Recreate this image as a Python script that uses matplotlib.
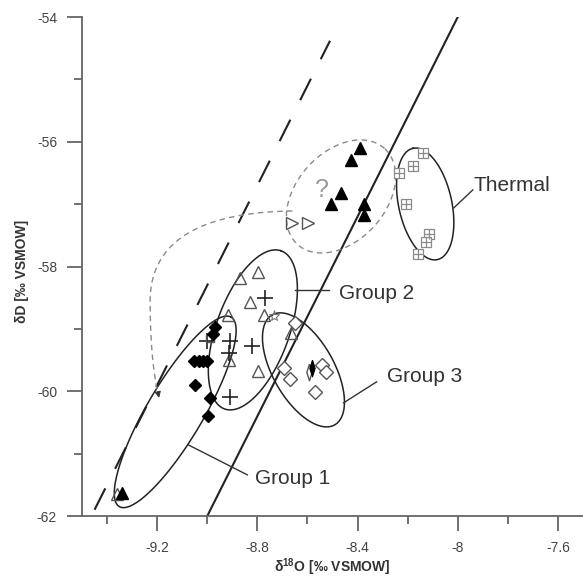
import numpy as np
import matplotlib
matplotlib.use('Agg')
import matplotlib.pyplot as plt
from matplotlib.ticker import MultipleLocator, FuncFormatter

plt.rcParams['font.family'] = ['Liberation Sans', 'DejaVu Sans']
plt.rcParams['mathtext.fontset'] = 'custom'
plt.rcParams['mathtext.rm'] = 'Liberation Sans'
plt.rcParams['mathtext.bf'] = 'Liberation Sans:bold'
plt.rcParams['axes.unicode_minus'] = False

# d18O / dD values [permil VSMOW] by sample symbol
tri_filled_x = [-8.391, -8.425, -8.468, -8.508, -8.375, -8.375, -9.341]
tri_filled_y = [-56.10, -56.29, -56.82, -57.00, -57.00, -57.18, -61.63]

tri_open_x = [-8.868, -8.799, -8.828, -8.919, -8.772, -8.915, -8.799, -8.665, -9.361]
tri_open_y = [-58.18, -58.08, -58.57, -58.78, -58.78, -59.50, -59.67, -59.07, -61.65]

tri_right_x = [-8.661, -8.599]
tri_right_y = [-57.30, -57.30]

thermal_x = [-8.137, -8.177, -8.235, -8.208, -8.115, -8.125, -8.157]
thermal_y = [-56.18, -56.39, -56.50, -57.00, -57.48, -57.60, -57.80]

plus_x = [-8.768, -9.001, -8.911, -8.915, -8.821, -8.911]
plus_y = [-58.51, -59.20, -59.20, -59.38, -59.28, -60.09]

square_x = [-8.988]
square_y = [-59.14]

star_x = [-8.735]
star_y = [-58.79]

dia_filled_x = [-8.970, -8.978, -9.052, -9.032, -9.016, -9.000, -9.048, -8.988, -8.999]
dia_filled_y = [-58.97, -59.08, -59.51, -59.51, -59.51, -59.51, -59.90, -60.10, -60.40]

dia_open_x = [-8.648, -8.695, -8.668, -8.541, -8.528, -8.568]
dia_open_y = [-58.90, -59.62, -59.81, -59.58, -59.69, -60.01]

thin_dia_x = [-8.581, -8.592]
thin_dia_y = [-59.62, -59.69]

# meteoric water lines: dD = slope * d18O + intercept
gmwl = (8.0, 10.0)
lmwl = (8.0, 13.7)

group_names = ['Group 1', 'Group 2', 'Group 3', 'Thermal']

# y data units per x data unit at this figure size, to keep ellipses round on screen
K = 4.006

# narrow diamond symbol
THIN_DIAMOND = [(0, 1), (0.32, 0), (0, -1), (-0.32, 0), (0, 1)]


def ellipse(cx, cy, a, b, ang, n=300):
    t = np.linspace(0, 2 * np.pi, n)
    th = np.radians(ang)
    u = a * np.cos(t) * np.cos(th) - b * np.sin(t) * np.sin(th)
    w = a * np.cos(t) * np.sin(th) + b * np.sin(t) * np.cos(th)
    return cx + u, cy + K * w


def bezier(p0, p1, p2, p3, n=60):
    t = np.linspace(0, 1, n)[:, None]
    p0, p1, p2, p3 = map(np.array, (p0, p1, p2, p3))
    pts = (1 - t) ** 3 * p0 + 3 * (1 - t) ** 2 * t * p1 + 3 * (1 - t) * t ** 2 * p2 + t ** 3 * p3
    return pts[:, 0], pts[:, 1]


fig = plt.figure(figsize=(5.83, 5.77), dpi=100)
ax = fig.add_axes([0.1407, 0.1057, 0.8593, 0.8648])

ink = '#222222'
grey = '#555555'

# water lines
xs = np.array([(-62 - gmwl[1]) / gmwl[0], (-54 - gmwl[1]) / gmwl[0]])
ax.plot(xs, gmwl[0] * xs + gmwl[1], color=ink, lw=1.5)
xs = np.array([(-61.9 - lmwl[1]) / lmwl[0], (-54.38 - lmwl[1]) / lmwl[0]])
ax.plot(xs, lmwl[0] * xs + lmwl[1], color=ink, lw=1.5, dashes=(11.5, 10.5))

# group ellipses
for cx, cy, a, b, ang in [(-9.128, -60.33, 0.44, 0.112, 59.5),
                          (-8.818, -59.016, 0.336, 0.146, 70.4),
                          (-8.616, -59.657, 0.253, 0.122, 119.5),
                          (-8.13, -56.997, 0.228, 0.106, 102.3)]:
    ex, ey = ellipse(cx, cy, a, b, ang)
    ax.plot(ex, ey, color=ink, lw=1.1)

ex, ey = ellipse(-8.466, -56.877, 0.259, 0.178, 47.9)
ax.plot(ex, ey, color='#8a8a8a', lw=1.0, dashes=(4, 3))

# dashed link from the uncertain cluster down to group 1
c1 = bezier((-8.66, -57.11), (-9.05, -57.13), (-9.228, -57.65), (-9.228, -58.55))
c2 = bezier((-9.228, -58.55), (-9.228, -59.35), (-9.21, -59.8), (-9.195, -60.08))
cx = np.concatenate([c1[0], c2[0]])
cy = np.concatenate([c1[1], c2[1]])
ax.plot(cx, cy, color='#8a8a8a', lw=1.0, dashes=(4, 3))
ax.annotate('', xy=(-9.190, -60.15), xytext=(-9.197, -60.02),
            arrowprops=dict(arrowstyle='-|>', color='#333333', lw=0.8, mutation_scale=9))

# samples
ax.plot(thermal_x, thermal_y, ls='none', marker='s', ms=6.5, mfc='white', mec='#8a8a8a', mew=0.9)
ax.plot(thermal_x, thermal_y, ls='none', marker='+', ms=6.5, mec='#8a8a8a', mew=0.9)
ax.plot(tri_open_x, tri_open_y, ls='none', marker='^', ms=9, mfc='none', mec=grey, mew=1.0)
ax.plot(tri_right_x, tri_right_y, ls='none', marker='>', ms=9, mfc='none', mec=grey, mew=1.0)
ax.plot(tri_filled_x, tri_filled_y, ls='none', marker='^', ms=9, mfc='black', mec='black')
ax.plot(plus_x, plus_y, ls='none', marker='+', ms=11, mec=ink, mew=1.2)
ax.plot(square_x, square_y, ls='none', marker='s', ms=6, mfc='none', mec=grey, mew=1.0)
ax.plot(star_x, star_y, ls='none', marker='*', ms=8, mfc='none', mec='#777777', mew=0.8)
ax.plot(dia_filled_x, dia_filled_y, ls='none', marker='D', ms=6.5, mfc='black', mec='black')
ax.plot(dia_open_x, dia_open_y, ls='none', marker='D', ms=7.5, mfc='white', mec=grey, mew=1.0)
ax.plot(thin_dia_x[1:], thin_dia_y[1:], ls='none', marker=THIN_DIAMOND, ms=12, mfc='none', mec=grey, mew=1.0)
ax.plot(thin_dia_x[:1], thin_dia_y[:1], ls='none', marker=THIN_DIAMOND, ms=12, mfc='black', mec='black', mew=0.8)

ax.text(-8.544, -56.772, '?', fontsize=18, color='#9a9a9a', ha='center', va='center')

# group labels with leader lines
label_pos = [(-8.808, -61.484), (-8.476, -58.519), (-8.284, -59.845), (-7.936, -56.788)]
leaders = [((-9.076, -60.859), (-8.84, -61.34)),
           ((-8.648, -58.375), (-8.516, -58.375)),
           ((-8.456, -60.186), (-8.324, -59.849)),
           ((-8.016, -57.061), (-7.94, -56.772))]
for name, (tx, ty), (p, q) in zip(group_names, label_pos, leaders):
    ax.plot([p[0], q[0]], [p[1], q[1]], color='#333333', lw=1.0)
    ax.text(tx, ty, name, fontsize=15, color='#333333', ha='left', va='baseline')

ax.set_xlim(-9.5, -7.5)
ax.set_ylim(-62, -54)
ax.xaxis.set_major_locator(MultipleLocator(0.4))
ax.xaxis.set_minor_locator(MultipleLocator(0.2))
ax.yaxis.set_major_locator(MultipleLocator(2))
ax.yaxis.set_minor_locator(MultipleLocator(1))
fmt = FuncFormatter(lambda v, pos: f'{v:g}')
ax.xaxis.set_major_formatter(fmt)
ax.yaxis.set_major_formatter(fmt)

for side in ['top', 'right']:
    ax.spines[side].set_visible(False)
for side in ['left', 'bottom']:
    ax.spines[side].set_color('#666666')
    ax.spines[side].set_linewidth(1.3)
ax.tick_params(which='major', length=11, width=1.3, color='#666666',
               labelsize=10, labelcolor='#444444', pad=7)
ax.tick_params(which='minor', length=6, width=1.3, color='#666666')

ax.set_xlabel('δ$^{\\bf 18}$O [‰ VSMOW]', fontsize=10, fontweight='bold', color='#333333', va='center')
ax.xaxis.set_label_coords(0.5, -0.102)
ax.set_ylabel('δD [‰ VSMOW]', fontsize=10, fontweight='bold', color='#333333', va='center')
ax.yaxis.set_label_coords(-0.12, 0.491)

fig.savefig('out.png', dpi=100)
